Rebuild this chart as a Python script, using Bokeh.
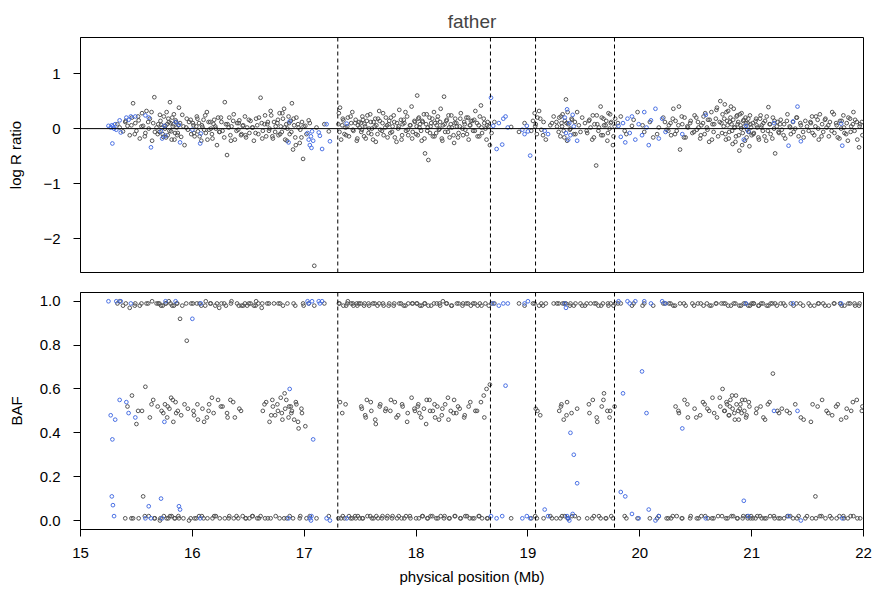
from bokeh.plotting import figure
from bokeh.layouts import column
from bokeh.models import Range1d, Span, FixedTicker
from bokeh.embed import file_html
from bokeh.resources import INLINE

# ---------------- data ----------------
title_text = "father"
x_ticks = [15, 16, 17, 18, 19, 20, 21, 22]
lrr_ticks = [-2, -1, 0, 1]
lrr_tick_labels = ["\u22122", "\u22121", "0", "1"]
baf_ticks = [0.0, 0.2, 0.4, 0.6, 0.8, 1.0]
baf_tick_labels = ["0.0", "0.2", "0.4", "0.6", "0.8", "1.0"]
breakpoints = [17.30, 18.665, 19.068, 19.774]

gray_pos = [
    15.33, 15.35, 15.38, 15.40, 15.42, 15.44, 15.46, 15.47, 15.49, 15.50,
    15.52, 15.53, 15.55, 15.56, 15.58, 15.59, 15.61, 15.62, 15.64, 15.65, 15.66, 15.68, 15.69, 15.71, 15.72, 15.74,
    15.76, 15.77, 15.78, 15.79, 15.80, 15.81, 15.82, 15.83, 15.84, 15.85, 15.86, 15.87, 15.88, 15.89, 15.90, 15.91, 15.92, 15.93, 15.95, 15.96, 15.97, 15.99,
    16.01, 16.02, 16.04, 16.05, 16.06, 16.08, 16.09, 16.10, 16.12, 16.13, 16.15, 16.16, 16.18, 16.19, 16.21, 16.22, 16.23, 16.24,
    16.26, 16.27, 16.29, 16.30, 16.31, 16.33, 16.34, 16.35, 16.37, 16.38, 16.40, 16.41, 16.42, 16.44, 16.45, 16.47, 16.48, 16.49,
    16.51, 16.52, 16.54, 16.55, 16.57, 16.58, 16.59, 16.61, 16.62, 16.63, 16.65, 16.66, 16.67, 16.69, 16.70, 16.72, 16.73, 16.74,
    16.76, 16.77, 16.78, 16.79, 16.80, 16.81, 16.82, 16.83, 16.84, 16.85, 16.86, 16.87, 16.88, 16.89, 16.90, 16.91, 16.92, 16.93, 16.95, 16.96, 16.98, 16.99,
    17.01, 17.02, 17.04, 17.05, 17.09, 17.11, 17.18, 17.22,
    17.31, 17.32, 17.33, 17.34, 17.35, 17.36, 17.37, 17.39, 17.40, 17.42, 17.43, 17.44, 17.46, 17.47, 17.48, 17.49,
    17.51, 17.52, 17.54, 17.55, 17.56, 17.58, 17.59, 17.60, 17.62, 17.63, 17.64, 17.66, 17.67, 17.68, 17.70, 17.71, 17.73, 17.74,
    17.76, 17.77, 17.79, 17.80, 17.81, 17.83, 17.84, 17.85, 17.87, 17.88, 17.89, 17.91, 17.92, 17.93, 17.95, 17.96, 17.97, 17.99,
    18.00, 18.01, 18.02, 18.03, 18.05, 18.06, 18.07, 18.08, 18.09, 18.10, 18.11, 18.12, 18.13, 18.15, 18.16, 18.17, 18.18, 18.19, 18.21, 18.22, 18.23, 18.24,
    18.25, 18.26, 18.27, 18.29, 18.30, 18.31, 18.32, 18.34, 18.35, 18.36, 18.38, 18.39, 18.40, 18.42, 18.43, 18.44, 18.45, 18.47, 18.48, 18.49,
    18.51, 18.52, 18.53, 18.55, 18.56, 18.57, 18.58, 18.59, 18.61, 18.62, 18.63, 18.64, 18.65, 18.66,
    18.70, 18.85, 18.92, 18.97, 19.03,
    19.06, 19.07, 19.08, 19.10, 19.11, 19.12, 19.14, 19.16, 19.20, 19.23,
    19.26, 19.28, 19.29, 19.30, 19.31, 19.32, 19.33, 19.34, 19.35, 19.36, 19.38, 19.39, 19.41, 19.42, 19.44, 19.47,
    19.51, 19.53, 19.55, 19.56, 19.58, 19.59, 19.61, 19.62, 19.63, 19.65, 19.66, 19.67, 19.68, 19.70, 19.71, 19.72, 19.73, 19.74, 19.76, 19.78,
    19.83, 19.88, 19.93, 19.98, 20.04, 20.09, 20.12, 20.17, 20.21, 20.24,
    20.26, 20.28, 20.30, 20.32, 20.33, 20.35, 20.36, 20.38, 20.40, 20.41, 20.43, 20.45, 20.47, 20.49,
    20.51, 20.52, 20.54, 20.55, 20.57, 20.58, 20.60, 20.61, 20.62, 20.64, 20.65, 20.66, 20.68, 20.69, 20.70, 20.72, 20.73, 20.74,
    20.75, 20.76, 20.77, 20.78, 20.79, 20.80, 20.81, 20.82, 20.83, 20.84, 20.85, 20.86, 20.87, 20.88, 20.89, 20.90, 20.91, 20.92, 20.93, 20.94, 20.95, 20.96, 20.97, 20.98, 20.99, 21.00,
    21.01, 21.02, 21.04, 21.05, 21.06, 21.08, 21.09, 21.10, 21.12, 21.13, 21.15, 21.16, 21.17, 21.19, 21.20, 21.21, 21.23, 21.24,
    21.26, 21.27, 21.29, 21.30, 21.32, 21.34, 21.35, 21.37, 21.39, 21.40, 21.42, 21.44, 21.46, 21.48,
    21.51, 21.53, 21.54, 21.56, 21.57, 21.59, 21.60, 21.61, 21.63, 21.64, 21.66, 21.67, 21.69, 21.70, 21.72, 21.74,
    21.76, 21.77, 21.79, 21.80, 21.82, 21.83, 21.85, 21.86, 21.88, 21.89, 21.91, 21.92, 21.94, 21.96, 21.97, 21.99,
]
gray_lrr = [
    0.08, 0.02, -0.05, 0.12, 0.05, -0.12, 0.20, 0.46, 0.10, -0.04,
    0.15, -0.18, 0.28, 0.05, -0.08, 0.32, 0.00, 0.18, -0.22, 0.10, 0.57, 0.02, -0.10, 0.25, 0.07, -0.15,
    0.05, 0.30, -0.12, 0.12, 0.48, -0.05, 0.20, 0.08, -0.20, 0.15, 0.02, -0.08, 0.38, 0.10, -0.15, 0.25, 0.04, -0.30, 0.18, -0.02, 0.12, -0.10,
    0.06, -0.14, 0.22, -0.05, 0.10, -0.22, 0.03, 0.16, -0.08, 0.30, -0.02, 0.12, -0.18, 0.08, 0.00, -0.30, 0.20, -0.06,
    0.12, -0.04, 0.48, 0.08, -0.48, 0.20, -0.12, 0.04, 0.26, -0.20, 0.10, -0.02, 0.15, -0.10, 0.05, 0.22, -0.16, 0.02,
    -0.08, 0.14, 0.02, -0.22, 0.18, 0.06, -0.10, 0.56, 0.10, -0.04, 0.24, -0.14, 0.08, 0.00, 0.32, -0.18, 0.12, -0.06,
    0.10, -0.12, 0.28, 0.04, -0.06, 0.18, 0.36, -0.20, 0.08, 0.00, 0.22, -0.10, 0.14, 0.46, -0.38, 0.06, -0.16, 0.20, 0.02, -0.26, 0.12, -0.55,
    0.05, -0.10, 0.15, 0.10, -2.49, 0.02, 0.08, -0.05,
    0.28, 0.38, -0.20, 0.06, 0.15, -0.10, 0.02, 0.20, -0.14, 0.10, 0.30, -0.04, 0.16, -0.22, 0.06, 0.12,
    -0.06, 0.22, 0.08, -0.18, 0.14, 0.00, 0.26, -0.10, 0.12, 0.04, -0.24, 0.18, 0.32, -0.02, 0.10, -0.12, 0.20, 0.06,
    0.14, -0.08, 0.04, 0.24, -0.16, 0.10, 0.00, 0.34, -0.20, 0.08, 0.16, -0.04, 0.22, -0.12, 0.06, 0.40, -0.06, 0.12,
    -0.10, 0.60, 0.18, 0.02, -0.22, 0.12, 0.26, -0.45, 0.08, -0.04, -0.57, 0.20, 0.04, -0.14, 0.30, 0.10, -0.08, 0.16, 0.00, 0.36, -0.18, 0.06,
    0.58, -0.06, 0.14, 0.24, -0.16, 0.08, 0.02, -0.26, 0.18, 0.10, -0.08, 0.04, 0.28, -0.12, 0.12, -0.02, 0.20, -0.20, 0.06, 0.14,
    -0.04, 0.16, 0.32, -0.14, 0.06, 0.22, 0.42, -0.08, 0.10, 0.00, -0.20, 0.12, 0.04, -0.30,
    0.12, 0.03, -0.06, 0.10, -0.04,
    0.28, 0.08, -0.10, 0.32, 0.18, -0.02, 0.12, -0.20, 0.06, 0.22,
    0.04, 0.20, -0.14, 0.10, 0.26, -0.04, 0.14, 0.53, -0.22, 0.08, 0.00, 0.18, -0.10, 0.12, 0.30, -0.06,
    0.10, -0.08, 0.16, 0.02, 0.24, -0.16, -0.67, 0.08, -0.04, 0.40, 0.20, -0.12, 0.06, 0.14, -0.22, 0.28, 0.00, 0.10, -0.30, 0.18,
    0.22, -0.10, 0.05, 0.30, -0.06, 0.12, -0.16, 0.02, 0.20, -0.02,
    0.06, -0.12, 0.36, 0.14, -0.04, 0.40, -0.38, 0.08, 0.20, -0.16, 0.02, 0.10, -0.08, 0.24,
    -0.02, 0.12, -0.18, 0.06, 0.22, -0.10, 0.02, 0.16, -0.24, 0.30, 0.08, -0.06, 0.18, 0.38, -0.14, 0.50, 0.10, 0.26,
    0.04, 0.44, -0.20, 0.14, 0.32, -0.06, 0.20, 0.08, -0.28, 0.36, 0.02, -0.14, 0.24, 0.12, -0.40, 0.06, 0.28, -0.08, 0.16, -0.22, 0.10, -0.02, 0.18, -0.32, 0.08, -0.12,
    0.10, -0.08, 0.18, 0.02, -0.16, 0.24, 0.06, -0.04, 0.14, -0.22, 0.39, 0.08, -0.10, 0.20, 0.00, -0.45, 0.12, -0.06,
    0.16, -0.02, 0.08, -0.18, 0.26, 0.04, -0.10, 0.12, 0.00, 0.20, -0.14, 0.06, -0.06, 0.14,
    -0.04, 0.10, 0.22, -0.12, 0.04, 0.16, -0.20, 0.26, 0.08, -0.06, 0.18, 0.02, -0.14, 0.12, 0.30, -0.08,
    0.06, -0.16, 0.14, 0.00, 0.24, -0.08, 0.10, -0.22, 0.18, 0.04, 0.30, -0.04, 0.12, -0.34, 0.08, -0.12,
]
gray_baf = [
    0.99, 1.00, 0.98, 0.01, 0.52, 0.97, 0.57, 0.01, 0.99, 0.44,
    0.01, 0.98, 0.50, 0.11, 0.61, 0.99, 0.02, 0.47, 1.00, 0.55, 0.01, 0.99, 0.52, 0.00, 0.98, 0.49,
    0.99, 0.01, 0.52, 1.00, 0.02, 0.56, 0.98, 0.45, 0.01, 0.54, 0.99, 0.50, 0.01, 0.92, 0.48, 0.98, 0.01, 0.53, 0.82, 0.51, 0.00, 0.99,
    0.50, 0.01, 0.99, 0.46, 0.02, 0.98, 0.51, 0.01, 1.00, 0.47, 0.53, 0.99, 0.01, 0.49, 0.02, 0.99, 0.55, 0.97,
    0.99, 0.52, 0.01, 0.98, 0.49, 0.02, 0.55, 1.00, 0.01, 0.47, 0.99, 0.01, 0.51, 0.98, 0.02, 0.99, 0.01, 0.98,
    0.01, 0.99, 0.02, 0.98, 1.00, 0.01, 0.99, 0.02, 0.97, 0.50, 0.01, 0.54, 0.99, 0.45, 0.01, 0.52, 0.99, 0.48,
    0.53, 0.99, 0.01, 0.56, 0.49, 0.98, 0.01, 0.51, 0.55, 0.99, 0.47, 0.02, 0.52, 0.50, 0.01, 0.46, 0.98, 0.53, 0.42, 0.01, 0.49, 0.99,
    0.43, 0.01, 0.99, 0.02, 0.98, 0.01, 0.99, 0.02,
    0.99, 0.54, 0.01, 0.49, 0.98, 0.01, 0.53, 1.00, 0.02, 0.99, 0.01, 0.98, 0.01, 0.99, 0.02, 0.99,
    0.52, 0.01, 0.99, 0.47, 0.55, 0.98, 0.02, 0.50, 0.01, 0.99, 0.44, 0.01, 0.99, 0.53, 0.02, 0.98, 0.51, 0.01,
    0.99, 0.50, 0.02, 0.98, 0.54, 0.01, 0.48, 0.99, 0.01, 0.52, 0.98, 0.02, 0.45, 0.99, 0.01, 0.56, 0.99, 0.50,
    0.01, 0.99, 0.53, 0.49, 0.98, 0.02, 0.51, 0.99, 0.44, 0.01, 0.98, 0.55, 0.02, 0.50, 0.99, 0.47, 0.01, 0.52, 0.99, 0.02, 0.48, 1.00,
    0.01, 0.53, 0.99, 0.46, 0.01, 0.50, 0.98, 0.55, 0.02, 0.49, 0.99, 0.51, 0.01, 0.99, 0.47, 0.02, 0.99, 0.52, 0.01, 0.98,
    0.99, 0.01, 0.50, 0.98, 0.02, 0.99, 0.54, 0.01, 0.47, 0.99, 0.60, 0.01, 0.98, 0.62,
    0.99, 0.01, 0.99, 0.98, 0.01,
    0.99, 0.51, 0.01, 0.98, 0.48, 0.99, 0.01, 0.99, 0.02, 0.99,
    0.99, 0.50, 0.01, 0.53, 0.99, 0.46, 0.02, 0.99, 0.54, 0.01, 0.99, 0.49, 0.98, 0.02, 0.51, 0.99,
    0.98, 0.01, 0.49, 0.99, 0.55, 0.02, 0.99, 0.45, 0.98, 0.01, 0.52, 0.99, 0.58, 0.01, 0.50, 0.98, 0.47, 0.99, 0.01, 0.99,
    0.99, 0.01, 0.98, 0.01, 0.99, 0.01, 0.98, 0.02, 0.99, 0.01,
    0.99, 0.01, 0.98, 0.52, 0.02, 0.49, 0.99, 0.01, 0.55, 0.98, 0.47, 0.01, 0.99, 0.51,
    0.01, 0.99, 0.48, 0.02, 0.98, 0.53, 0.99, 0.01, 0.50, 0.98, 0.56, 0.01, 0.99, 0.47, 0.02, 0.52, 0.99, 0.60,
    0.99, 0.50, 0.01, 0.53, 0.98, 0.48, 0.55, 0.02, 0.51, 0.99, 0.46, 0.57, 0.01, 0.50, 0.98, 0.53, 0.49, 0.01, 0.99, 0.55, 0.47, 0.02, 0.98, 0.52, 0.01, 0.99,
    0.01, 0.99, 0.49, 0.02, 0.98, 0.52, 0.01, 0.99, 0.46, 0.01, 0.98, 0.54, 0.99, 0.67, 0.02, 0.99, 0.50, 0.01,
    0.99, 0.51, 0.01, 0.98, 0.02, 0.49, 0.99, 0.01, 0.53, 0.99, 0.02, 0.47, 0.98, 0.01,
    0.99, 0.45, 0.01, 0.98, 0.11, 0.52, 0.99, 0.02, 0.55, 0.99, 0.01, 0.50, 0.98, 0.02, 0.48, 0.99,
    0.01, 0.53, 0.99, 0.46, 0.02, 0.98, 0.51, 0.01, 0.99, 0.50, 0.02, 0.99, 0.55, 0.98, 0.01, 0.52,
]

# second batch of gray SNPs (denser stretches)
gray2_pos = [
    15.705, 15.715, 15.725, 15.735, 15.745, 15.755, 15.765, 15.775, 15.785, 15.795, 15.805, 15.815, 15.825, 15.835, 15.845, 15.855, 15.865, 15.875, 15.945, 15.985,
    16.005, 16.015, 16.035, 16.045, 16.065, 16.085, 16.105, 16.115, 16.135, 16.145, 16.165, 16.175, 16.195, 16.205, 16.245, 16.255, 16.285, 16.315, 16.325, 16.345, 16.365, 16.395, 16.415, 16.435,
    16.455, 16.475, 16.505, 16.535, 16.565, 16.595, 16.625, 16.645, 16.675, 16.685, 16.705, 16.715, 16.745, 16.765, 16.785, 16.805, 16.825, 16.845, 16.865, 16.885, 16.905, 16.925, 16.945, 16.965, 16.975, 16.995,
    15.405, 15.455, 15.485, 15.515, 15.545, 15.575, 15.605, 15.635, 15.665, 15.695,
    17.305, 17.315, 17.345, 17.375, 17.385, 17.415, 17.435, 17.455, 17.475, 17.495,
    17.505, 17.515, 17.525, 17.535, 17.545, 17.565, 17.575, 17.595, 17.605, 17.615, 17.635, 17.645, 17.655, 17.675, 17.695, 17.705, 17.725, 17.745, 17.755, 17.775, 17.785, 17.805, 17.825, 17.845, 17.865, 17.875, 17.895, 17.905, 17.925, 17.945, 17.965, 17.985,
    18.005, 18.015, 18.025, 18.035, 18.045, 18.055, 18.075, 18.095, 18.105, 18.125, 18.135, 18.145, 18.165, 18.185, 18.195, 18.205, 18.215, 18.235, 18.255, 18.275, 18.285, 18.295, 18.315, 18.335, 18.345, 18.365, 18.375, 18.395, 18.415, 18.435, 18.455, 18.465, 18.485, 18.505, 18.525, 18.545, 18.565, 18.585, 18.605, 18.635,
    19.255, 19.275, 19.295, 19.305, 19.325, 19.345, 19.355, 19.375, 19.395, 19.425, 19.455, 19.485, 19.525, 19.545, 19.575, 19.595, 19.615, 19.635, 19.655, 19.675, 19.695, 19.715, 19.735, 19.745, 19.765, 19.775,
    20.255, 20.275, 20.295, 20.315, 20.345, 20.375, 20.395, 20.425, 20.455, 20.485, 20.505, 20.525, 20.545, 20.565, 20.585, 20.605, 20.625, 20.645, 20.665, 20.685, 20.715, 20.735,
    20.755, 20.765, 20.775, 20.785, 20.795, 20.805, 20.815, 20.825, 20.835, 20.845, 20.855, 20.865, 20.875, 20.885, 20.895, 20.905, 20.915, 20.925, 20.935, 20.945, 20.955, 20.965, 20.975, 20.985, 20.995, 21.015, 21.035, 21.045, 21.065, 21.075, 21.085, 21.105, 21.115, 21.135, 21.145, 21.165, 21.185, 21.205, 21.225, 21.245,
    21.255, 21.285, 21.315, 21.345, 21.375, 21.405, 21.435, 21.465, 21.495, 21.525, 21.545, 21.575, 21.595, 21.625, 21.655, 21.685, 21.715, 21.735, 21.755, 21.785, 21.805, 21.825, 21.845, 21.865, 21.885, 21.905, 21.925, 21.945, 21.965, 21.985,
    18.675, 19.045, 19.065, 19.085, 19.135, 19.215,
    19.805, 19.865, 19.945, 20.025, 20.155, 20.225,
]
gray2_lrr = [
    -0.06, 0.14, 0.02, -0.10, 0.22, 0.00, -0.16, 0.08, 0.18, -0.04, 0.10, -0.20, 0.04, 0.26, -0.08, 0.12, -0.12, 0.06, 0.02, 0.16,
    0.10, -0.08, 0.04, 0.18, -0.14, 0.06, -0.02, 0.24, -0.20, 0.12, 0.00, -0.10, 0.16, 0.04, -0.06, 0.20, -0.16, 0.08, 0.02, -0.22, 0.14, -0.04, 0.10, -0.12,
    0.06, -0.12, 0.16, 0.02, -0.08, 0.20, -0.18, 0.08, 0.12, -0.04, 0.24, -0.14, 0.04, 0.16, -0.10, 0.28, 0.02, -0.22, 0.10, -0.06, 0.18, -0.30, 0.08, -0.02, -0.16, 0.04,
    0.14, 0.06, -0.10, 0.22, 0.04, -0.14, 0.12, 0.30, -0.06, 0.08,
    0.08, -0.06, 0.18, -0.12, 0.04, 0.22, -0.02, 0.10, -0.18, 0.02,
    0.10, -0.02, 0.16, -0.14, 0.04, 0.24, -0.08, 0.12, 0.00, -0.20, 0.18, 0.06, -0.10, 0.14, -0.04, 0.28, 0.02, -0.16, 0.08, 0.20, -0.06, 0.12, -0.24, 0.04, 0.16, -0.12, 0.10, 0.30, -0.02, 0.06, -0.18, 0.14,
    0.04, -0.12, 0.20, 0.08, -0.04, 0.14, -0.18, 0.26, 0.02, -0.08, 0.10, 0.18, -0.14, 0.06, 0.22, -0.02, 0.12, -0.22, 0.08, 0.16, -0.06, 0.02, 0.24, -0.12, 0.10, 0.04, -0.16, 0.18, 0.00, 0.08, -0.10, 0.20, 0.06, 0.14, -0.04, 0.10, -0.14, 0.02, 0.18, 0.06,
    0.12, -0.06, 0.22, 0.04, -0.16, 0.10, 0.30, -0.02, 0.16, -0.10, 0.06, 0.20, -0.04, 0.14, -0.20, 0.08, 0.24, 0.02, -0.12, 0.18, 0.06, -0.08, 0.26, 0.12, -0.14, 0.04,
    -0.04, 0.10, 0.18, -0.10, 0.06, 0.22, -0.16, 0.04, 0.14, -0.06, 0.20, 0.02, -0.12, 0.10, 0.28, -0.02, 0.16, -0.20, 0.08, 0.34, 0.12, -0.08,
    0.18, -0.10, 0.30, 0.06, -0.18, 0.12, 0.40, -0.04, 0.16, 0.02, -0.24, 0.22, 0.08, -0.12, 0.26, 0.00, -0.30, 0.14, 0.04, 0.20, -0.16, 0.10, -0.06, 0.24, 0.02, -0.10, 0.14, 0.06, -0.20, 0.18, 0.02, 0.10, -0.14, 0.22, -0.04, 0.08, -0.18, 0.14, 0.04, -0.08,
    0.08, -0.12, 0.14, 0.02, -0.06, 0.20, 0.10, -0.16, 0.04, 0.12, -0.08, 0.22, 0.00, -0.14, 0.16, 0.06, -0.04, 0.26, 0.10, -0.18, 0.14, 0.02, -0.10, 0.20, -0.06, 0.08, 0.16, -0.20, 0.04, 0.12,
    -0.08, 0.14, 0.04, 0.20, -0.12, 0.10,
    0.10, -0.04, 0.16, 0.06, -0.10, 0.12,
]
gray2_baf = [
    0.99, 0.01, 0.50, 0.98, 0.02, 0.53, 0.99, 0.47, 0.01, 0.51, 0.99, 0.02, 0.55, 0.98, 0.01, 0.49, 0.99, 0.02, 0.99, 0.01,
    0.99, 0.48, 0.01, 0.53, 0.99, 0.02, 0.45, 0.98, 0.01, 0.50, 0.99, 0.56, 0.02, 0.98, 0.01, 0.52, 0.99, 0.47, 0.01, 0.99, 0.54, 0.02, 0.98, 0.50,
    0.98, 0.01, 0.99, 0.02, 0.98, 0.01, 0.99, 0.53, 0.01, 0.99, 0.48, 0.55, 0.02, 0.50, 0.99, 0.46, 0.58, 0.01, 0.52, 0.49, 0.99, 0.54, 0.45, 0.02, 0.51, 0.98,
    0.99, 0.01, 0.98, 0.50, 0.99, 0.02, 0.99, 0.53, 0.01, 0.99,
    0.01, 0.99, 0.02, 0.98, 0.99, 0.01, 0.99, 0.02, 0.98, 0.01,
    0.99, 0.51, 0.01, 0.98, 0.48, 0.02, 0.99, 0.54, 0.01, 0.99, 0.46, 0.02, 0.98, 0.52, 0.01, 0.99, 0.50, 0.02, 0.98, 0.55, 0.01, 0.99, 0.47, 0.02, 0.99, 0.53, 0.01, 0.98, 0.49, 0.02, 0.99, 0.51,
    0.99, 0.52, 0.01, 0.98, 0.47, 0.02, 0.99, 0.55, 0.01, 0.50, 0.98, 0.02, 0.53, 0.99, 0.01, 0.46, 0.98, 0.51, 0.02, 0.99, 0.56, 0.01, 0.98, 0.49, 0.02, 0.99, 0.52, 0.01, 0.98, 0.48, 0.02, 0.99, 0.54, 0.01, 0.99, 0.50, 0.02, 0.98, 0.57, 0.01,
    0.01, 0.99, 0.52, 0.02, 0.99, 0.48, 0.01, 0.98, 0.02, 0.99, 0.01, 0.98, 0.99, 0.53, 0.01, 0.99, 0.47, 0.02, 0.98, 0.55, 0.01, 0.99, 0.50, 0.02, 0.98, 0.52,
    0.01, 0.99, 0.02, 0.98, 0.50, 0.01, 0.99, 0.53, 0.02, 0.98, 0.47, 0.01, 0.99, 0.54, 0.02, 0.51, 0.98, 0.01, 0.49, 0.99, 0.56, 0.02,
    0.50, 0.99, 0.54, 0.01, 0.48, 0.52, 0.98, 0.57, 0.02, 0.49, 0.99, 0.53, 0.01, 0.46, 0.51, 0.98, 0.55, 0.02, 0.50, 0.99, 0.48, 0.01, 0.54, 0.98, 0.02, 0.99, 0.01, 0.51, 0.98, 0.02, 0.99, 0.47, 0.01, 0.98, 0.53, 0.02, 0.99, 0.01, 0.98, 0.49,
    0.01, 0.99, 0.50, 0.02, 0.98, 0.01, 0.99, 0.46, 0.02, 0.98, 0.53, 0.01, 0.99, 0.02, 0.98, 0.49, 0.01, 0.99, 0.52, 0.02, 0.98, 0.01, 0.47, 0.99, 0.02, 0.54, 0.98, 0.01, 0.99, 0.50,
    0.99, 0.99, 0.02, 0.50, 0.98, 0.01,
    0.99, 0.02, 0.99, 0.98, 0.01, 0.99,
]

blue_pos = [
    15.25, 15.27, 15.28, 15.285, 15.29, 15.30, 15.31, 15.32, 15.35, 15.36,
    15.41, 15.43, 15.45, 15.49, 15.58, 15.61, 15.63, 15.72, 15.73, 15.75,
    15.76, 15.85, 15.88, 15.89, 16.00, 16.07, 16.075, 16.86, 16.87,
    17.03, 17.04, 17.05, 17.06, 17.065, 17.07, 17.08, 17.13, 17.14, 17.16, 17.20, 17.23, 17.38,
    18.67, 18.69, 18.72, 18.74, 18.77, 18.78, 18.80, 18.82, 18.95, 18.97, 18.99, 19.00, 19.02, 19.15, 19.18,
    19.33, 19.34, 19.35, 19.36, 19.37, 19.38, 19.40, 19.41, 19.44,
    19.81, 19.83, 19.85, 19.87, 19.89, 19.91, 19.93, 19.96, 19.99, 20.02, 20.04, 20.06, 20.08, 20.10, 20.14, 20.17, 20.20, 20.23,
    20.38, 20.59, 20.93, 20.95, 20.97, 21.20, 21.33, 21.37, 21.41, 21.44, 21.80, 21.81,
]
blue_lrr = [
    0.05, 0.02, 0.06, -0.27, 0.04, 0.00, 0.08, -0.02, 0.15, -0.07,
    0.20, 0.16, 0.22, 0.22, 0.24, 0.20, -0.34, -0.05, -0.18, 0.05,
    -0.13, 0.12, 0.07, -0.25, -0.02, -0.27, -0.09, -0.25, 0.13,
    -0.08, -0.20, -0.30, -0.14, -0.35, -0.05, -0.22, -0.07, -0.13, -0.37, 0.08, -0.23, 0.09,
    0.56, 0.05, -0.37, 0.10, -0.29, 0.18, 0.22, 0.02, -0.02, -0.10, 0.05, -0.05, -0.49, -0.04, -0.10,
    0.20, -0.08, 0.35, -0.20, 0.10, -0.12, 0.25, 0.04, -0.22,
    0.05, -0.15, 0.10, -0.25, 0.18, -0.08, 0.22, -0.20, 0.08, -0.12, 0.30, 0.02, -0.30, 0.15, 0.36, -0.18, 0.18, -0.06,
    -0.10, 0.25, -0.20, 0.05, -0.05, 0.10, -0.31, 0.13, 0.40, -0.23, 0.09, -0.31,
]
blue_baf = [
    1.00, 0.48, 0.11, 0.37, 0.07, 0.02, 0.46, 1.00, 0.55, 1.00,
    0.54, 0.49, 0.99, 0.47, 0.01, 0.065, 0.01, 0.10, 0.01, 0.45,
    1.00, 1.00, 0.065, 0.05, 0.92, 0.01, 0.99, 0.01, 0.60,
    1.00, 0.99, 0.01, 0.00, 0.02, 1.00, 0.37, 1.00, 0.99, 1.00, 0.01, 0.00, 0.01,
    0.02, 0.99, 0.01, 0.98, 0.02, 0.99, 0.615, 0.99, 0.01, 0.99, 0.02, 1.00, 0.01, 0.05, 0.02,
    0.99, 0.97, 0.02, 0.01, 0.00, 0.40, 0.03, 0.30, 0.17,
    1.00, 0.13, 0.58, 0.11, 1.00, 0.99, 0.03, 1.00, 0.01, 0.68, 1.00, 0.49, 0.05, 0.99, 0.00, 0.02, 1.00, 0.99,
    0.42, 0.01, 0.09, 0.99, 0.02, 0.50, 0.02, 0.99, 0.50, 0.00, 0.99, 0.01,
]

# ---------------- styling ----------------
FONT = "Liberation Sans"
GRAY = "#4d4d4d"
BLUE = "#4169E1"
PT_SIZE = 3.7
PT_LW = 0.95
FS = "15px"

all_gray_pos = gray_pos + gray2_pos
all_gray_lrr = gray_lrr + gray2_lrr
all_gray_baf = gray_baf + gray2_baf


def style_axis(ax):
    ax.axis_line_color = "black"
    ax.major_tick_line_color = "black"
    ax.major_tick_out = 7
    ax.major_tick_in = 0
    ax.minor_tick_out = 0
    ax.minor_tick_in = 0
    ax.major_label_text_font = FONT
    ax.major_label_text_font_size = FS
    ax.major_label_text_color = "black"
    ax.axis_label_text_font = FONT
    ax.axis_label_text_font_size = FS
    ax.axis_label_text_font_style = "normal"
    ax.axis_label_text_color = "black"


def base_fig(height, y_range, mb_top, mb_bottom, title=None):
    p = figure(width=873, height=height, x_range=Range1d(15, 22), y_range=y_range,
               output_backend="svg", toolbar_location=None, title=title,
               min_border_left=80, min_border_right=10,
               min_border_top=mb_top, min_border_bottom=mb_bottom)
    p.grid.visible = False
    p.outline_line_color = "black"
    p.outline_line_width = 1
    p.outline_line_alpha = 1
    p.background_fill_color = "white"
    p.border_fill_color = "white"
    for loc in breakpoints:
        p.add_layout(Span(location=loc, dimension="height", line_color="black",
                          line_dash="4 3", line_width=1))
    return p


# top panel: log R ratio
p1 = base_fig(282, Range1d(-2.612, 1.654), 37, 10, title=title_text)
p1.title.text_font = FONT
p1.title.text_font_size = "19px"
p1.title.text_font_style = "normal"
p1.title.align = "center"
p1.title.standoff = 12
p1.scatter(all_gray_pos, all_gray_lrr, marker="circle", size=PT_SIZE, fill_color=None,
           line_color=GRAY, line_width=PT_LW)
p1.scatter(blue_pos, blue_lrr, marker="circle", size=PT_SIZE, fill_color=None,
           line_color=BLUE, line_width=PT_LW)
p1.add_layout(Span(location=0, dimension="width", line_color="black", line_width=1))
p1.xaxis.visible = False
p1.yaxis.ticker = FixedTicker(ticks=lrr_ticks)
p1.yaxis.major_label_overrides = {t: l for t, l in zip(lrr_ticks, lrr_tick_labels)}
p1.yaxis.axis_label = "log R ratio"
style_axis(p1.yaxis[0])
p1.yaxis.major_label_standoff = 13
p1.yaxis.axis_label_standoff = 16

# bottom panel: BAF
p2 = base_fig(311, Range1d(-0.041, 1.04), 10, 64)
p2.scatter(all_gray_pos, all_gray_baf, marker="circle", size=PT_SIZE, fill_color=None,
           line_color=GRAY, line_width=PT_LW)
p2.scatter(blue_pos, blue_baf, marker="circle", size=PT_SIZE, fill_color=None,
           line_color=BLUE, line_width=PT_LW)
p2.yaxis.ticker = FixedTicker(ticks=baf_ticks)
p2.yaxis.major_label_overrides = {t: l for t, l in zip(baf_ticks, baf_tick_labels)}
p2.yaxis.axis_label = "BAF"
style_axis(p2.yaxis[0])
p2.yaxis.major_label_standoff = 13
p2.yaxis.axis_label_standoff = 12
p2.xaxis.ticker = FixedTicker(ticks=x_ticks)
p2.xaxis.axis_label = "physical position (Mb)"
style_axis(p2.xaxis[0])
p2.xaxis.major_label_standoff = 11
p2.xaxis.axis_label_standoff = 7

layout = column(p1, p2, spacing=0)
open("out.html", "w").write(file_html(layout, INLINE))
